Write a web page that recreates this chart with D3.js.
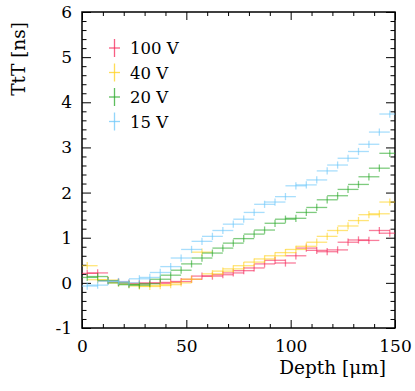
<!DOCTYPE html>
<html lang="en">
<head>
<meta charset="UTF-8">
<title>TtT vs depth</title>
<script src="https://d3js.org/d3.v7.min.js"></script>
<style>
    body { margin: 0; background: #fff; }
    text { font-family: "DejaVu Serif", serif; fill: #000; }
    .tick line { stroke: #000; stroke-width: 1; }
</style>
</head>
<body>
<script>

// bin centres [um], each bin is 10 um wide, stepped by 5 um
var depth = [2.5, 7.5, 12.5, 17.5, 22.5, 27.5, 32.5, 37.5, 42.5, 47.5,
             52.5, 57.5, 62.5, 67.5, 72.5, 77.5, 82.5, 87.5, 92.5, 97.5,
             102.5, 107.5, 112.5, 117.5, 122.5, 127.5, 132.5, 137.5, 142.5, 147.5];

var v100 = [0.21, 0.22, 0.05, 0.02, -0.01, -0.02, 0.00, -0.01, 0.01, 0.03,
            0.08, 0.15, 0.15, 0.18, 0.22, 0.27, 0.33, 0.42, 0.50, 0.44,
            0.60, 0.77, 0.72, 0.69, 0.73, 0.90, 0.95, 0.94, 1.16, 1.10];
var v40  = [0.38, 0.07, 0.06, 0.00, -0.03, -0.07, -0.08, -0.06, -0.04, 0.00,
            0.08, 0.68, 0.20, 0.26, 0.31, 0.38, 0.46, 0.53, 0.60, 0.67,
            0.74, 0.81, 0.90, 1.03, 1.16, 1.26, 1.38, 1.51, 1.53, 1.79];
var v20  = [0.12, 0.14, 0.05, 0.00, -0.04, -0.05, -0.02, 0.08, 0.17, 0.28,
            0.42, 0.55, 0.66, 0.77, 0.88, 0.98, 1.08, 1.17, 1.32, 1.41,
            1.43, 1.56, 1.67, 1.84, 1.93, 2.07, 2.18, 2.35, 2.54, 2.87];
var v15  = [-0.07, -0.05, 0.04, 0.03, 0.00, 0.09, 0.12, 0.23, 0.36, 0.55,
            0.74, 0.92, 1.03, 1.16, 1.30, 1.41, 1.56, 1.74, 1.79, 1.91,
            2.15, 2.17, 2.28, 2.48, 2.61, 2.76, 2.91, 3.07, 3.34, 3.74];

var labels = ["100 V", "40 V", "20 V", "15 V"];
var colors = ["#f5285a", "#ffd21e", "#28a828", "#6ec8fa"];
var series = [v100, v40, v20, v15];

var xErr = 5, yErr = 0.08;

var xTicks = [0, 50, 100, 150];
var yTicks = [-1, 0, 1, 2, 3, 4, 5, 6];

var W = 415, H = 391;
var pL = 82, pR = 395, pT = 12, pB = 328;

var svg = d3.select("body").append("svg")
    .attr("width", W)
    .attr("height", H);

var x = d3.scaleLinear().domain([0, 150]).range([pL, pR]);
var y = d3.scaleLinear().domain([-1, 6]).range([pB, pT]);

var xMinor = d3.range(0, 151, 10).filter(function(d){ return d % 50 !== 0; });
var yMinor = d3.range(-10, 61, 2).map(function(d){ return d / 10; })
    .filter(function(d){ return Math.abs(d - Math.round(d)) > 1e-6; });

function noDomain(g) { g.select(".domain").remove(); }

// bottom
svg.append("g").attr("transform", "translate(0," + pB + ")")
    .call(d3.axisBottom(x).tickValues(xTicks).tickSize(-8).tickPadding(12)
        .tickFormat(function(d){ return String(d); }))
    .call(noDomain)
    .selectAll("text").style("font-size", "17px").style("font-family", "DejaVu Serif");
svg.append("g").attr("transform", "translate(0," + pB + ")")
    .call(d3.axisBottom(x).tickValues(xMinor).tickSize(-4).tickFormat(""))
    .call(noDomain);
// top
svg.append("g").attr("transform", "translate(0," + pT + ")")
    .call(d3.axisTop(x).tickValues(xTicks).tickSize(-8).tickFormat(""))
    .call(noDomain);
svg.append("g").attr("transform", "translate(0," + pT + ")")
    .call(d3.axisTop(x).tickValues(xMinor).tickSize(-4).tickFormat(""))
    .call(noDomain);
// left
svg.append("g").attr("transform", "translate(" + pL + ",0)")
    .call(d3.axisLeft(y).tickValues(yTicks).tickSize(-9).tickPadding(10)
        .tickFormat(function(d){ return String(d); }))
    .call(noDomain)
    .selectAll("text").style("font-size", "17px").style("font-family", "DejaVu Serif");
svg.append("g").attr("transform", "translate(" + pL + ",0)")
    .call(d3.axisLeft(y).tickValues(yMinor).tickSize(-4.5).tickFormat(""))
    .call(noDomain);
// right
svg.append("g").attr("transform", "translate(" + pR + ",0)")
    .call(d3.axisRight(y).tickValues(yTicks).tickSize(-9).tickFormat(""))
    .call(noDomain);
svg.append("g").attr("transform", "translate(" + pR + ",0)")
    .call(d3.axisRight(y).tickValues(yMinor).tickSize(-4.5).tickFormat(""))
    .call(noDomain);

// frame
svg.append("rect")
    .attr("x", pL).attr("y", pT)
    .attr("width", pR - pL).attr("height", pB - pT)
    .attr("fill", "none").attr("stroke", "#000").attr("stroke-width", 1.5);

// axis titles
svg.append("text")
    .attr("x", 386).attr("y", 374)
    .attr("text-anchor", "end")
    .style("font-size", "18.5px")
    .text("Depth [μm]");

svg.append("text")
    .attr("transform", "translate(25,22) rotate(-90)")
    .attr("text-anchor", "end")
    .style("font-size", "18.5px")
    .text("TtT [ns]");

// data
svg.append("clipPath").attr("id", "plot")
    .append("rect")
    .attr("x", pL).attr("y", pT)
    .attr("width", pR - pL).attr("height", pB - pT);

var plot = svg.append("g").attr("clip-path", "url(#plot)");

series.forEach(function(vals, k) {
    var pts = depth.map(function(d, i){ return {d: d, v: vals[i]}; });
    var g = plot.append("g")
        .attr("stroke", colors[k])
        .attr("stroke-opacity", 0.6)
        .attr("stroke-width", 1.3);
    g.selectAll("line.h").data(pts).enter().append("line")
        .attr("class", "h")
        .attr("x1", function(p){ return x(p.d - xErr); })
        .attr("x2", function(p){ return x(p.d + xErr); })
        .attr("y1", function(p){ return y(p.v); })
        .attr("y2", function(p){ return y(p.v); });
    g.selectAll("line.v").data(pts).enter().append("line")
        .attr("class", "v")
        .attr("x1", function(p){ return x(p.d); })
        .attr("x2", function(p){ return x(p.d); })
        .attr("y1", function(p){ return y(p.v - yErr); })
        .attr("y2", function(p){ return y(p.v + yErr); });
});

// legend
var legend = svg.append("g");
labels.forEach(function(lab, k) {
    var cy = 48 + k * 24.5;
    var row = legend.append("g");
    row.append("line")
        .attr("x1", 109).attr("x2", 120).attr("y1", cy).attr("y2", cy)
        .attr("stroke", colors[k]).attr("stroke-opacity", 0.75).attr("stroke-width", 1.3);
    row.append("line")
        .attr("x1", 114.5).attr("x2", 114.5).attr("y1", cy - 9).attr("y2", cy + 9)
        .attr("stroke", colors[k]).attr("stroke-opacity", 0.75).attr("stroke-width", 1.3);
    row.append("text")
        .attr("x", 130).attr("y", cy + 6)
        .style("font-size", "16.5px")
        .text(lab);
});

</script>
</body>
</html>
